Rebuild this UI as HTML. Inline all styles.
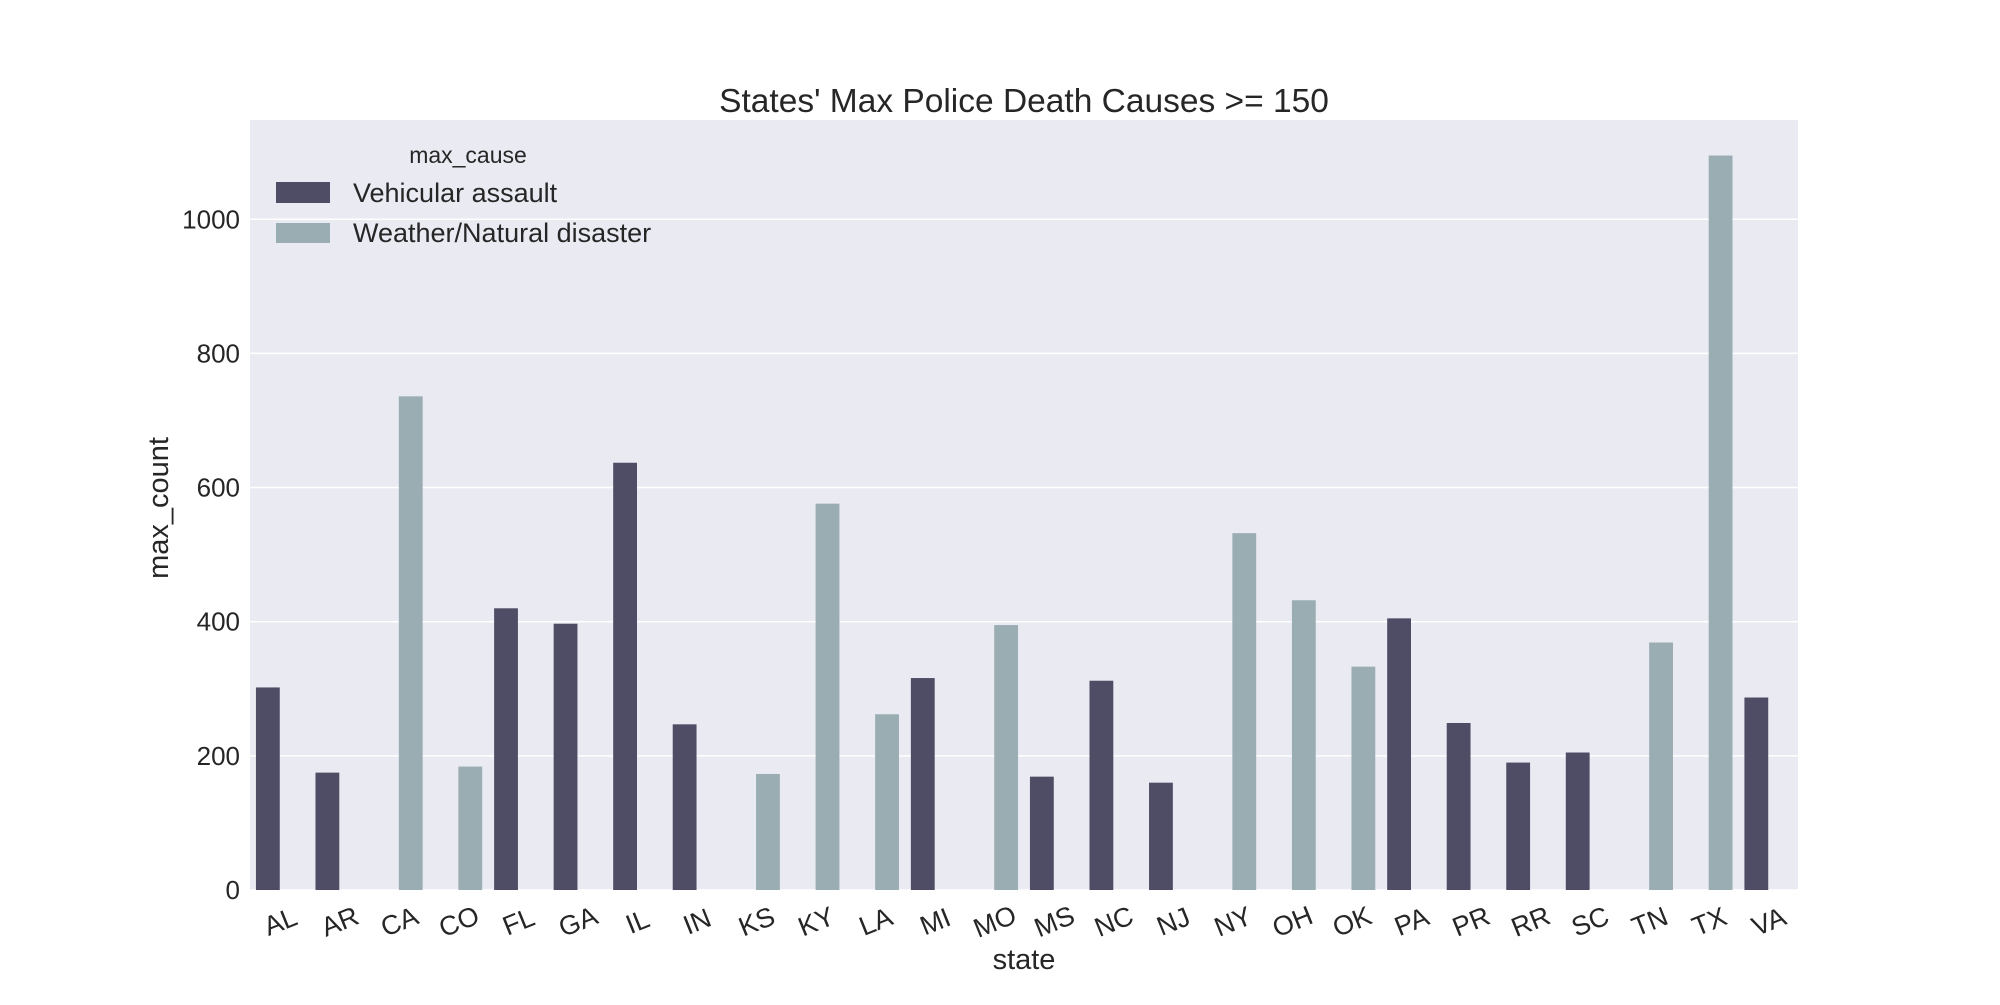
<!DOCTYPE html>
<html><head><meta charset="utf-8"><style>
body{margin:0;background:#fff}
svg text{font-family:"Liberation Sans",Arial,sans-serif;fill:#262626}
</style></head><body>
<svg id="chart" width="2000" height="1000" xmlns="http://www.w3.org/2000/svg">
<rect x="250" y="120" width="1548" height="770" fill="#eaeaf2"/>
<g id="grid"></g><g id="bars"></g><g id="ticks"></g>
<text x="1024" y="112" font-size="33.5" text-anchor="middle">States' Max Police Death Causes &gt;= 150</text>
<text x="1024" y="969" font-size="29" text-anchor="middle">state</text>
<text transform="translate(168,508) rotate(-90)" font-size="29" text-anchor="middle">max_count</text>
<g>
<text x="468" y="163" font-size="23" text-anchor="middle">max_cause</text>
<rect x="276" y="182" width="54" height="21" fill="#4e4d65"/>
<text x="353" y="202" font-size="27">Vehicular assault</text>
<rect x="276" y="223" width="54" height="20" fill="#99adb2"/>
<text x="353" y="242" font-size="27">Weather/Natural disaster</text>
</g>
</svg>
<script>
const categories=["AL","AR","CA","CO","FL","GA","IL","IN","KS","KY","LA","MI","MO","MS","NC","NJ","NY","OH","OK","PA","PR","RR","SC","TN","TX","VA"];
const causes=["V","V","W","W","V","V","V","V","W","W","W","V","W","V","V","V","W","W","W","V","V","V","V","W","W","V"];
const values=[302,175,736,184,420,397,637,247,173,576,262,316,395,169,312,160,532,432,333,405,249,190,205,369,1095,287];
const yTicks=[0,200,400,600,800,1000];
const NS="http://www.w3.org/2000/svg";
const X0=250,X1=1798,Y0=890,YT=120,YMAX=1148;
const n=categories.length;
const slot=(X1-X0)/n;
const y=v=>Y0-(v/YMAX)*(Y0-YT);
const xc=i=>X0+slot*(i+0.5);
const grid=document.getElementById('grid'),bars=document.getElementById('bars'),ticks=document.getElementById('ticks');
yTicks.forEach(t=>{
 const l=document.createElementNS(NS,'line');
 
 
 l.setAttribute('x1',X0);l.setAttribute('x2',X1);l.setAttribute('y1',y(t));l.setAttribute('y2',y(t));
 l.setAttribute('stroke','#fff');l.setAttribute('stroke-width','1.5');grid.appendChild(l);
 const tx=document.createElementNS(NS,'text');
 
 
 tx.setAttribute('x',240);tx.setAttribute('y',y(t)+9);tx.setAttribute('font-size','26');tx.setAttribute('text-anchor','end');
 tx.textContent=t;ticks.appendChild(tx);
});
categories.forEach((c,i)=>{
 const w=slot*0.4;
 const cx=xc(i)+(causes[i]==="V"?-w/2:w/2);
 const r=document.createElementNS(NS,'rect');
 
 
 r.setAttribute('x',cx-w/2);r.setAttribute('width',w);r.setAttribute('y',y(values[i]));r.setAttribute('height',Y0-y(values[i]));
 r.setAttribute('fill',causes[i]==="V"?'#4e4d65':'#99adb2');bars.appendChild(r);
});
categories.forEach((c,i)=>{
 const tx=document.createElementNS(NS,'text');
 
 
 tx.setAttribute('transform','translate('+(xc(i)+4)+',930) rotate(-22)');
 tx.setAttribute('font-size','27');tx.setAttribute('text-anchor','middle');
 tx.textContent=c;ticks.appendChild(tx);
});
</script>
</body></html>
